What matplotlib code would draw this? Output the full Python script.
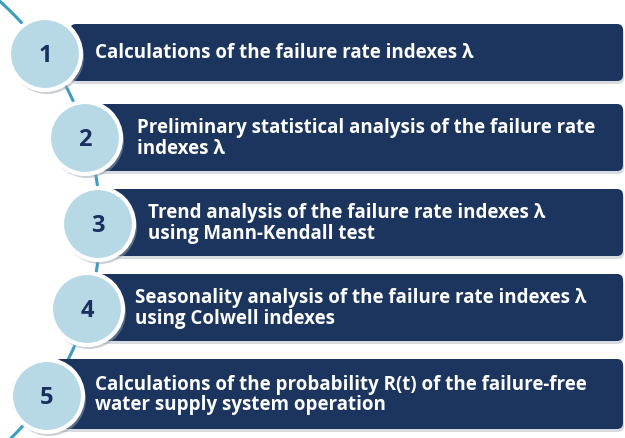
import numpy as np
import matplotlib.pyplot as plt
from matplotlib.patches import FancyBboxPatch, Circle

# step contents
numbers = ['1', '2', '3', '4', '5']
labels = [
    'Calculations of the failure rate indexes λ',
    'Preliminary statistical analysis of the failure rate\nindexes λ',
    'Trend analysis of the failure rate indexes λ\nusing Mann-Kendall test',
    'Seasonality analysis of the failure rate indexes λ\nusing Colwell indexes',
    'Calculations of the probability R(t) of the failure-free\nwater supply system operation',
]

# layout in pixels (y downwards)
bar_top = [25, 105, 190, 275, 360]
bar_bot = [82, 172, 257, 342, 430]
bar_left = [70, 95, 110, 95, 55]
circ_x = [45, 85, 98, 87, 47]
circ_y = [55, 139, 225, 310, 397]
text_x = [95, 137, 148, 135, 95]

navy = '#1c355e'
light = '#b7d8e5'
teal = '#3c9dbf'

fig = plt.figure(figsize=(6.25, 4.39), dpi=100)
ax = fig.add_axes([0, 0, 1, 1])
ax.set_xlim(0, 625)
ax.set_ylim(439, 0)
ax.axis('off')

# arc connecting the circles
cx, cy, R = -200, 226, 300
yy = np.linspace(-5, 445, 200)
xx = cx + np.sqrt(R**2 - (yy - cy)**2)
ax.plot(xx, yy, color=teal, lw=2.2, zorder=1)

for i in range(5):
    w = 623 - bar_left[i]
    h = bar_bot[i] - bar_top[i]
    shadow = FancyBboxPatch((bar_left[i] + 1, bar_top[i] + 3), w, h,
                            boxstyle='round,pad=0,rounding_size=6',
                            fc='#bfc4cc', ec='none', alpha=0.6, zorder=2)
    ax.add_patch(shadow)
    bar = FancyBboxPatch((bar_left[i], bar_top[i]), w, h,
                         boxstyle='round,pad=0,rounding_size=6',
                         fc=navy, ec='none', zorder=3)
    ax.add_patch(bar)
    ax.text(text_x[i], (bar_top[i] + bar_bot[i]) / 2, labels[i],
            color='white', fontsize=13.5, fontweight='bold', family='Open Sans',
            va='center', ha='left', linespacing=1.05, zorder=4)

    ax.add_patch(Circle((circ_x[i] + 2, circ_y[i] + 3), 37, fc='#9aa3ad',
                        ec='none', alpha=0.5, zorder=5))
    ax.add_patch(Circle((circ_x[i], circ_y[i]), 36, fc=light,
                        ec='white', lw=3, zorder=6))
    ax.text(circ_x[i], circ_y[i] + 1, numbers[i], color='#1a2f5e', fontsize=17,
            fontweight='bold', family='Open Sans', ha='center', va='center',
            zorder=7)

fig.savefig('out.png', dpi=100)
